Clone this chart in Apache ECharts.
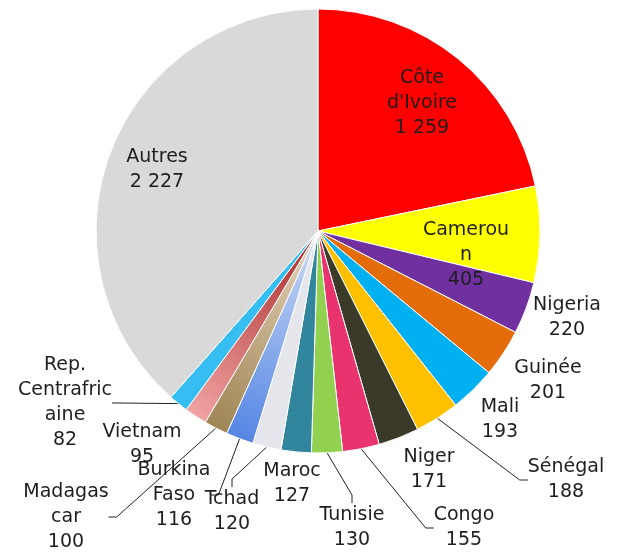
<!DOCTYPE html>
<html>
<head>
<meta charset="utf-8">
<script src="https://cdn.jsdelivr.net/npm/echarts@6/dist/echarts.min.js"></script>
<style>
html, body { margin: 0; padding: 0; background: #fff; }
#main { width: 625px; height: 552px; }
</style>
</head>
<body>
<div id="main"></div>
<script>
// data
var countries = ['Côte\nd\'Ivoire', 'Camerou\nn', 'Nigeria', 'Guinée', 'Mali', 'Sénégal', 'Niger', 'Congo',
    'Tunisie', 'Maroc', 'Tchad', 'Burkina\nFaso', 'Madagas\ncar', 'Vietnam', 'Rep.\nCentrafric\naine', 'Autres'];
var values = [1259, 405, 220, 201, 193, 188, 171, 155, 130, 127, 120, 116, 100, 95, 82, 2227];

var CX = 318, CY = 231, R = 222;

var colors = ['#ff0000', '#ffff00', '#7030a0', '#e46c0a', '#00b0f0', '#ffc000', '#3b3928', '#e8336e',
    '#92d050', '#31859c', '#e4e6ec', ['#cfdcf6', '#4f82e2'], ['#e8d6c0', '#9c8250'], ['#a82828', '#f4a8a8'],
    '#36bdf2', '#d9d9d9'];
// label block centres, offset from the pie centre (Excel placed them by hand)
var labelSpots = [[104, -128], [148, 24], [249, 87], [230, 150], [182, 189], [248, 249], [111, 239], [146, 297],
    [34, 297], [-26, 253], [-86, 281], [-144, 264], [-252, 286], [-176, 214], [-253, 172], [-161, -61]];
var inside = [0, 1, 15];
var withLine = [5, 7, 8, 10, 11, 12, 14];

function fmt(v) {
    return String(v).replace(/\B(?=(\d{3})+(?!\d))/g, ' ');
}

function fill(c) {
    if (typeof c === 'string') return c;
    return {
        type: 'linear', x: 1, y: 0, x2: 0, y2: 1,
        colorStops: [{offset: 0, color: c[0]}, {offset: 1, color: c[1]}]
    };
}

var data = values.map(function (v, i) {
    return {
        value: v,
        name: countries[i],
        itemStyle: {color: fill(colors[i])},
        label: {position: inside.indexOf(i) >= 0 ? 'inside' : 'outside'},
        labelLine: {show: withLine.indexOf(i) >= 0}
    };
});

var myChart = echarts.init(document.getElementById('main'));
var option = {
    backgroundColor: '#fff',
    animation: false,
    series: [{
        type: 'pie',
        center: [CX, CY],
        radius: R,
        startAngle: 90,
        clockwise: true,
        avoidLabelOverlap: false,
        silent: true,
        itemStyle: {
            borderColor: '#fff',
            borderWidth: 1
        },
        label: {
            color: '#1e1e1e',
            fontFamily: 'DejaVu Sans',
            fontSize: 19,
            lineHeight: 25,
            overflow: 'none',
            formatter: function (p) {
                return p.name + '\n' + fmt(p.value);
            }
        },
        labelLine: {
            length: 6,
            length2: 8,
            lineStyle: {color: '#222', width: 1}
        },
        labelLayout: function (p) {
            var s = labelSpots[p.dataIndex];
            return {
                x: CX + s[0],
                y: CY + s[1],
                align: 'center',
                verticalAlign: 'middle'
            };
        },
        data: data
    }]
};
myChart.setOption(option);
</script>
</body>
</html>
